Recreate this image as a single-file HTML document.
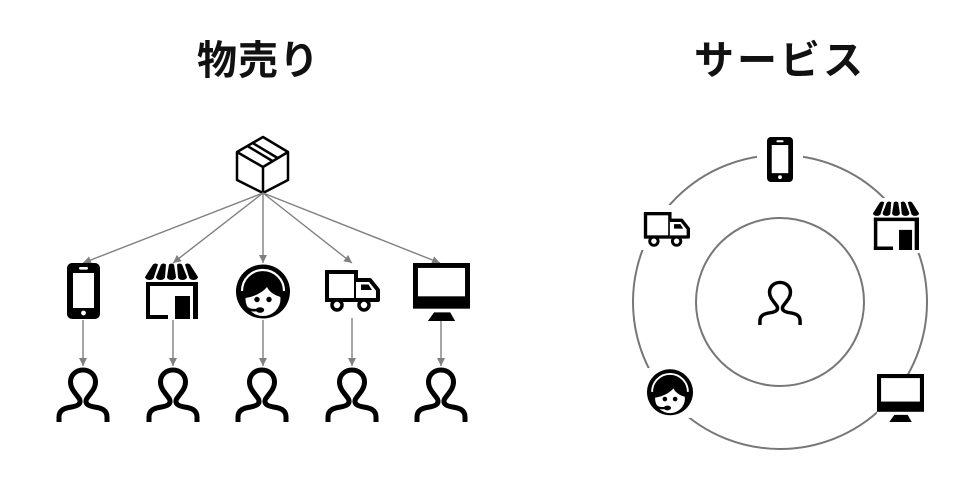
<!DOCTYPE html>
<html>
<head>
<meta charset="utf-8">
<style>
html,body{margin:0;padding:0;background:#fff;}
svg{display:block;}
.t{font-family:"Liberation Sans","Noto Sans CJK JP",sans-serif;font-weight:700;font-size:40px;fill:#111;}
</style>
</head>
<body>
<svg width="980" height="480" viewBox="0 0 980 480" xmlns="http://www.w3.org/2000/svg">
<defs>
  <marker id="ah" viewBox="0 0 10 10" refX="10" refY="5" markerWidth="8" markerHeight="8" markerUnits="userSpaceOnUse" orient="auto">
    <path d="M0,0 L10,5 L0,10 z" fill="#808080"/>
  </marker>
  <symbol id="phone" viewBox="0 0 33 56" preserveAspectRatio="none">
    <rect x="0" y="0" width="33" height="56" rx="5" fill="#000"/>
    <rect x="6" y="10" width="21" height="35" fill="#fff"/>
    <rect x="12" y="4" width="9" height="2.6" rx="1.2" fill="#fff"/>
    <circle cx="16.5" cy="50" r="2.4" fill="#fff"/>
  </symbol>
  <symbol id="store" viewBox="0 0 53 56" preserveAspectRatio="none">
    <path d="M8,1.5 Q10.5,-0.5 13,1.5 L9,14 A4.5,3 0 0 1 0,14 Z" fill="#000"/>
    <path d="M16,1.5 Q18.5,-0.5 21,1.5 L20,14 A4.5,3 0 0 1 11,14 Z" fill="#000"/>
    <path d="M24,1.5 Q26.5,-0.5 29,1.5 L31,14 A4.5,3 0 0 1 22,14 Z" fill="#000"/>
    <path d="M32,1.5 Q34.5,-0.5 37,1.5 L42,14 A4.5,3 0 0 1 33,14 Z" fill="#000"/>
    <path d="M40,1.5 Q42.5,-0.5 45,1.5 L53,14 A4.5,3 0 0 1 44,14 Z" fill="#000"/>
    <rect x="1" y="19" width="52" height="4" fill="#000"/>
    <rect x="1" y="19" width="4" height="37" fill="#000"/>
    <rect x="1" y="52" width="22" height="4" fill="#000"/>
    <rect x="30" y="33" width="15" height="23" fill="#000"/>
    <rect x="48" y="19" width="5" height="37" fill="#000"/>
  </symbol>
  <symbol id="headset" viewBox="0 0 54 57" preserveAspectRatio="none">
    <circle cx="27" cy="28.5" r="27" fill="#000"/>
    <path d="M6,28 A21,21 0 0 1 48,28" fill="none" stroke="#fff" stroke-width="2.2"/>
    <ellipse cx="27" cy="36" rx="17.5" ry="17" fill="#fff"/>
    <path d="M9.5,35 C10,24 18,18.5 27,18.5 C36,18.5 44,24 44.5,34 C38,32 33,28.5 31,24 C26,30 18,33.5 9.5,35 Z" fill="#000"/>
    <circle cx="21" cy="36.5" r="2.7" fill="#000"/>
    <circle cx="33" cy="36.5" r="2.7" fill="#000"/>
    <path d="M7,37 C8,45 13,48 21,47" fill="none" stroke="#000" stroke-width="2.6"/>
    <ellipse cx="24" cy="47" rx="4.2" ry="2.8" fill="#000"/>
  </symbol>
  <symbol id="truck" viewBox="0 0 56 42" preserveAspectRatio="none">
    <rect x="3" y="2" width="29" height="28" fill="#fff" stroke="#000" stroke-width="4"/>
    <path d="M32,10 H46 L54,20 V30 H32" fill="#fff" stroke="#000" stroke-width="4" stroke-linejoin="round"/>
    <path d="M37,14.5 H44.5 L48,20 H37 Z" fill="#000"/>
    <circle cx="13" cy="35" r="5" fill="#fff" stroke="#000" stroke-width="3.5"/>
    <circle cx="40" cy="35" r="5" fill="#fff" stroke="#000" stroke-width="3.5"/>
  </symbol>
  <symbol id="monitor" viewBox="0 0 46 47" preserveAspectRatio="none">
    <rect x="0" y="0" width="46" height="37" fill="#000"/>
    <rect x="4" y="4" width="38" height="23" fill="#fff"/>
    <path d="M17,40 H30 L34,47 H12 Z" fill="#000"/>
  </symbol>
  <symbol id="person" viewBox="0 0 55 55" preserveAspectRatio="none">
    <path d="M3.5,55 V50 C3.5,43 9,41 16,40 C22,39 26,37 24,32 C20,26 15,22 15,15 C15,7.5 21,3 27.5,3 C34,3 40,7.5 40,15 C40,22 35,26 31,32 C29,37 33,39 39,40 C46,41 51.5,43 51.5,50 V55" fill="none" stroke="#000"/>
  </symbol>
</defs>

<!-- Titles -->
<text class="t" x="197 238 279" y="74">物売り</text>
<text class="t" x="694 737 780 823" y="74">サービス</text>

<!-- Left: cube -->
<g fill="none" stroke="#000" stroke-width="2.5" stroke-linejoin="round">
  <path d="M263,137 L288,152 L288,180 L263,193 L237,180 L237,152 Z" fill="#fff"/>
  <path d="M237,152 L263,167 L288,152 M263,167 V193"/>
  <path d="M252.6,143 L277.6,158 M247.4,146 L272.4,161"/>
</g>

<!-- Left arrows from cube -->
<g stroke="#808080" stroke-width="1.4" fill="none" marker-end="url(#ah)">
  <line x1="263" y1="193" x2="83" y2="263"/>
  <line x1="263" y1="193" x2="173" y2="263"/>
  <line x1="263" y1="193" x2="263" y2="263"/>
  <line x1="263" y1="193" x2="352" y2="263"/>
  <line x1="263" y1="193" x2="440" y2="263"/>
  <line x1="83" y1="320" x2="83" y2="366"/>
  <line x1="173" y1="320" x2="173" y2="366"/>
  <line x1="263" y1="320" x2="263" y2="366"/>
  <line x1="352" y1="318" x2="352" y2="366"/>
  <line x1="441" y1="321" x2="441" y2="366"/>
</g>

<!-- Left icons -->
<use href="#phone" x="67" y="263" width="33" height="56"/>
<use href="#store" x="145" y="263" width="53" height="56"/>
<use href="#headset" x="236" y="263" width="54" height="57"/>
<use href="#truck" x="324" y="270" width="56" height="42"/>
<use href="#monitor" x="413" y="263" width="57" height="58"/>

<!-- Left persons -->
<use href="#person" x="55.5" y="367" width="55" height="55" stroke-width="5"/>
<use href="#person" x="145.5" y="367" width="55" height="55" stroke-width="5"/>
<use href="#person" x="234.5" y="367" width="55" height="55" stroke-width="5"/>
<use href="#person" x="324.5" y="367" width="55" height="55" stroke-width="5"/>
<use href="#person" x="413.5" y="367" width="55" height="55" stroke-width="5"/>

<!-- Right: circles -->
<circle cx="780" cy="302" r="147" fill="none" stroke="#777" stroke-width="2"/>
<circle cx="780" cy="302" r="84" fill="none" stroke="#777" stroke-width="2"/>

<!-- white backgrounds for gaps -->
<g fill="#fff">
  <rect x="757" y="135" width="46" height="49"/>
  <rect x="641" y="205" width="50" height="45"/>
  <rect x="871" y="198" width="50" height="55"/>
  <rect x="645" y="368" width="50" height="50"/>
  <rect x="877" y="374" width="47" height="48"/>
</g>

<!-- Right icons -->
<use href="#phone" x="767" y="137" width="26" height="45"/>
<use href="#truck" x="643" y="212" width="47" height="35"/>
<use href="#store" x="873" y="201" width="46" height="49"/>
<use href="#headset" x="647" y="368" width="46" height="48.5"/>
<use href="#monitor" x="877" y="374" width="47" height="48"/>
<use href="#person" x="757" y="280" width="46" height="45" stroke-width="4.2"/>
</svg>
</body>
</html>
